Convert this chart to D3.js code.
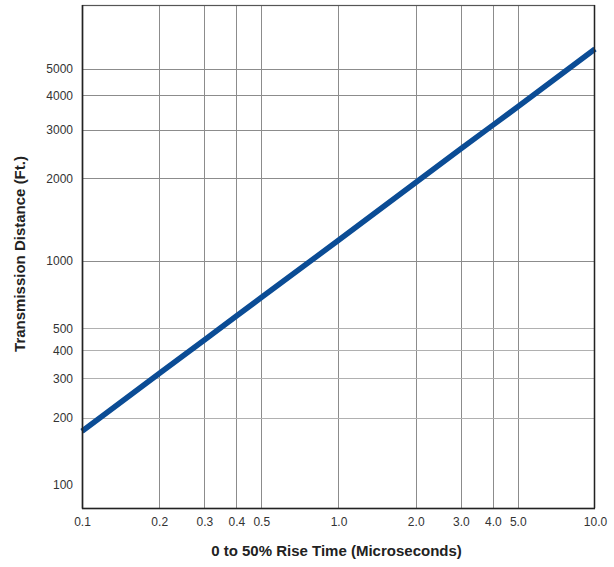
<!DOCTYPE html>
<html>
<head>
<meta charset="utf-8">
<script src="https://cdn.jsdelivr.net/npm/d3@7"></script>
<style>
  html, body { margin: 0; padding: 0; background: #fff; }
  svg { display: block; }
</style>
</head>
<body>
<div id="chart"></div>
<script>
// ---- data ----
const riseTimes = [0.1, 0.2, 0.3, 0.4, 0.5, 1.0, 2.0, 3.0, 4.0, 5.0, 10.0];            // microseconds
const distances = [174, 315, 444, 568, 687, 1190, 1930, 2560, 3120, 3640, 5900];      // feet
const xTickValues = [0.1, 0.2, 0.3, 0.4, 0.5, 1.0, 2.0, 3.0, 4.0, 5.0, 10.0];
const xTickLabels = ["0.1", "0.2", "0.3", "0.4", "0.5", "1.0", "2.0", "3.0", "4.0", "5.0", "10.0"];
const yTickValues = [100, 200, 300, 400, 500, 1000, 2000, 3000, 4000, 5000];
const yTickLabels = ["100", "200", "300", "400", "500", "1000", "2000", "3000", "4000", "5000"];
const yGridValues = [200, 300, 400, 500, 1000, 2000, 3000, 4000, 5000];
const xDomain = [0.1, 10];
// the printed chart's vertical axis uses a shorter decade below 1000 than above it
const yDomain = [79, 1000, 8530];
const xTitle = "0 to 50% Rise Time (Microseconds)";
const yTitle = "Transmission Distance (Ft.)";

// ---- layout ----
const W = 614, H = 567;
const m = { left: 82, right: 19, top: 5, bottom: 59 };
const iw = W - m.left - m.right, ih = H - m.top - m.bottom;

const svg = d3.select("#chart").append("svg").attr("width", W).attr("height", H);
const g = svg.append("g").attr("transform", `translate(${m.left},${m.top})`);

const x = d3.scaleLog().domain(xDomain).range([0, iw]);
const y = d3.scaleLog().domain(yDomain).range([ih, ih * 0.509, 0]);

// grid
g.append("g").selectAll("line").data(xTickValues.filter(v => v > xDomain[0] && v < xDomain[1]))
  .join("line")
  .attr("x1", d => Math.round(x(d)) + 0.5).attr("x2", d => Math.round(x(d)) + 0.5)
  .attr("y1", 0).attr("y2", ih)
  .attr("stroke", "#8c8c8c").attr("stroke-width", 1);

g.append("g").selectAll("line").data(yGridValues)
  .join("line")
  .attr("y1", d => Math.round(y(d)) + 0.5).attr("y2", d => Math.round(y(d)) + 0.5)
  .attr("x1", 0).attr("x2", iw)
  .attr("stroke", d => d < 1000 ? "#b0b0b0" : "#8c8c8c").attr("stroke-width", 1);

// data line
const line = d3.line().x((d, i) => x(riseTimes[i])).y(d => y(d));
g.append("path").datum(distances)
  .attr("d", line)
  .attr("fill", "none")
  .attr("stroke", "#0b4c95")
  .attr("stroke-width", 5.5)
  .attr("stroke-linecap", "butt");

// frame
g.append("rect").attr("x", 0.5).attr("y", 0.5).attr("width", iw - 1).attr("height", ih)
  .attr("fill", "none").attr("stroke", "#555").attr("stroke-width", 1.2);
g.append("line").attr("x1", 0.5).attr("x2", 0.5).attr("y1", 0).attr("y2", ih + 0.5)
  .attr("stroke", "#222").attr("stroke-width", 1.6);
g.append("line").attr("x1", 0).attr("x2", iw).attr("y1", ih + 0.5).attr("y2", ih + 0.5)
  .attr("stroke", "#222").attr("stroke-width", 1.6);
g.append("line").attr("x1", iw - 0.5).attr("x2", iw - 0.5).attr("y1", 0).attr("y2", ih)
  .attr("stroke", "#222").attr("stroke-width", 1.4);

// axes
const tickFont = "'Liberation Sans', Arial, sans-serif";
const xAxis = d3.axisBottom(x).tickValues(xTickValues)
  .tickFormat((d, i) => xTickLabels[i]).tickSize(0).tickPadding(9);
const gx = g.append("g").attr("transform", `translate(0,${ih})`).call(xAxis);
gx.select(".domain").remove();
gx.selectAll("text").attr("font-family", tickFont).attr("font-size", "12px").attr("fill", "#333");

const yAxis = d3.axisLeft(y).tickValues(yTickValues)
  .tickFormat((d, i) => yTickLabels[i]).tickSize(0).tickPadding(9);
const gy = g.append("g").call(yAxis);
gy.select(".domain").remove();
gy.selectAll("text").attr("font-family", tickFont).attr("font-size", "12px").attr("fill", "#333");

// titles
const titleFont = "'Liberation Sans Narrow', 'Arial Narrow', 'Liberation Sans', Arial, sans-serif";
svg.append("text")
  .attr("x", m.left + iw / 2 - 2).attr("y", 556)
  .attr("text-anchor", "middle")
  .attr("font-family", titleFont).attr("font-weight", "bold").attr("font-size", "15px")
  .attr("fill", "#222").text(xTitle);

svg.append("text")
  .attr("transform", `translate(25,${254}) rotate(-90)`)
  .attr("text-anchor", "middle")
  .attr("font-family", titleFont).attr("font-weight", "bold").attr("font-size", "15px")
  .attr("fill", "#222").text(yTitle);
</script>
</body>
</html>
